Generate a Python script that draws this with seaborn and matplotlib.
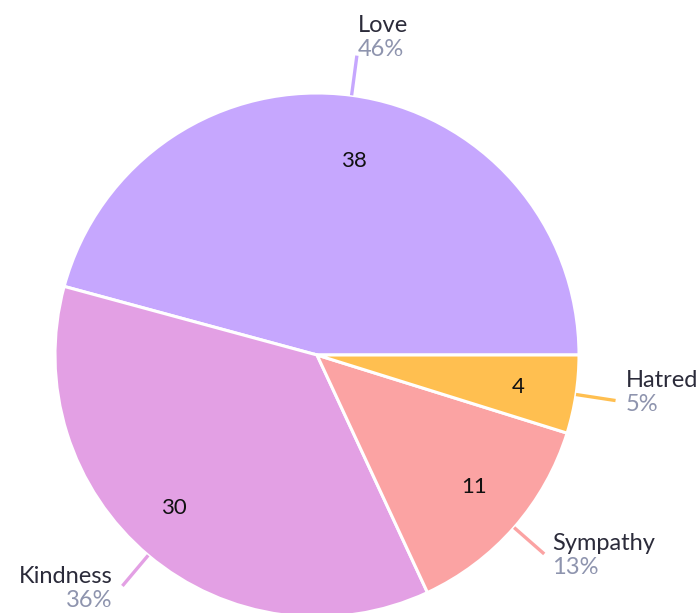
import numpy as np
import matplotlib
matplotlib.use("Agg")
import matplotlib.pyplot as plt
import seaborn as sns

categories = ["Love", "Kindness", "Sympathy", "Hatred"]
counts = [38, 30, 11, 4]
colors = ["#C6A7FE", "#E3A0E4", "#FBA3A3", "#FFBF50"]

# label layout: baseline of the name relative to the leader end (px, downward),
# horizontal gap from the leader end, and where the inner count sits
# (angular nudge in degrees, radius as a fraction of the pie radius)
name_dy = {"Love": -24, "Kindness": -3, "Sympathy": -4, "Hatred": -14}
name_dx = {"Love": 1, "Kindness": -10, "Sympathy": 8, "Hatred": 10}
inner_nudge = {"Love": -3.2, "Kindness": -3.2, "Sympathy": 1.4, "Hatred": 0.0}
inner_r = {"Love": 0.758, "Kindness": 0.795, "Sympathy": 0.78, "Hatred": 0.777}

sns.set_theme(style="white")
plt.rcParams["font.family"] = ["Lato", "DejaVu Sans"]

W, H = 700, 613
fig = plt.figure(figsize=(W / 100, H / 100), dpi=100)
ax = fig.add_axes([0, 0, 1, 1])

cx, cy, R = 317, H - 355, 262
total = sum(counts)

wedges, _ = ax.pie(
    counts, colors=colors, startangle=0, counterclock=True,
    center=(cx, cy), radius=R, frame=True,
    wedgeprops=dict(edgecolor="white", linewidth=2.2),
)
ax.set_xlim(0, W)
ax.set_ylim(0, H)
ax.axis("off")

for w, name, c, col in zip(wedges, categories, counts, colors):
    mid = (w.theta1 + w.theta2) / 2
    ang = np.deg2rad(mid)

    # count inside the slice (baseline sits half a digit below the anchor)
    ia = np.deg2rad(mid + inner_nudge[name])
    rr = inner_r[name] * R
    ax.text(cx + rr * np.cos(ia), cy + rr * np.sin(ia) - 7.5, f"{c}",
            ha="center", va="baseline", fontsize=16, color="#111111")

    # leader line and outside label
    x0, y0 = cx + R * np.cos(ang), cy + R * np.sin(ang)
    x1, y1 = cx + (R + 40) * np.cos(ang), cy + (R + 40) * np.sin(ang)
    ax.plot([x0, x1], [y0, y1], color=col, lw=2.4, solid_capstyle="butt")
    pct = f"{round(100 * c / total)}%"
    ha = "left" if np.cos(ang) >= 0 else "right"
    tx = x1 + name_dx[name]
    ny = y1 - name_dy[name]
    ax.text(tx, ny, name, ha=ha, va="baseline", fontsize=17, color="#2B2B3A")
    ax.text(tx, ny - 24, pct, ha=ha, va="baseline", fontsize=17, color="#8E94AE")

fig.savefig("out.png", dpi=100)
